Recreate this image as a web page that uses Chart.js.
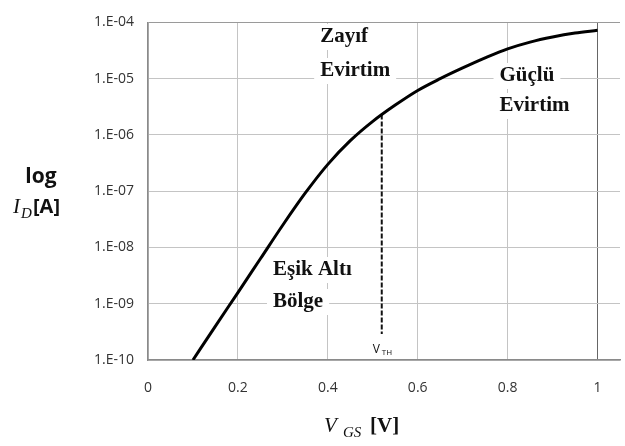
<!DOCTYPE html>
<html>
<head>
<meta charset="utf-8">
<script src="https://cdn.jsdelivr.net/npm/chart.js@4.4.1/dist/chart.umd.min.js"></script>
<style>
  html, body { margin: 0; padding: 0; background: #fff; }
  #wrap { width: 625px; height: 446px; position: relative; }
</style>
</head>
<body>
<div id="wrap"><canvas id="c"></canvas></div>
<script>
// VGS [V] ve ID [A]
const vgs = [0.1, 0.15, 0.2, 0.25, 0.3, 0.35, 0.4, 0.45, 0.5, 0.55, 0.6, 0.65, 0.7, 0.75, 0.8, 0.85, 0.9, 0.95, 1.0];
const idA = [1.0e-10, 4.0e-10, 1.58e-9, 6.3e-9, 2.51e-8, 9.3e-8, 3.0e-7, 7.9e-7, 1.74e-6, 3.39e-6, 6.17e-6,
             1.0e-5, 1.55e-5, 2.34e-5, 3.39e-5, 4.47e-5, 5.5e-5, 6.46e-5, 7.24e-5];

// VTH kesikli çizgisi
const vthX = [0.52, 0.52];
const vthY = [2.3e-6, 2.9e-10];

const xTicks = [0, 0.2, 0.4, 0.6, 0.8, 1.0];
const yTicks = [1e-10, 1e-9, 1e-8, 1e-7, 1e-6, 1e-5, 1e-4];

// bölge etiketleri
const regionLabels = [
  { lines: ['Zayıf', 'Evirtim'], x: 0.383, y: [42, 76] },
  { lines: ['Güçlü', 'Evirtim'], x: 0.782, y: [81, 111] },
  { lines: ['Eşik Altı', 'Bölge'], x: 0.278, y: [275, 307] },
];

const FONT_SANS = "'Open Sans', 'Liberation Sans', sans-serif";
const FONT_SERIF = "'Liberation Serif', 'DejaVu Serif', serif";

const labelsPlugin = {
  id: 'labels',
  beforeDatasetsDraw(chart) {
    const { ctx, scales: { x } } = chart;
    ctx.save();
    ctx.font = `bold 21px ${FONT_SERIF}`;
    ctx.textBaseline = 'alphabetic';
    ctx.textAlign = 'left';
    regionLabels.forEach(r => {
      const px = x.getPixelForValue(r.x);
      r.lines.forEach((t, i) => {
        const w = ctx.measureText(t).width;
        ctx.fillStyle = '#fff';
        ctx.fillRect(px - 6, r.y[i] - 18, w + 12, 26);
      });
      r.lines.forEach((t, i) => {
        ctx.fillStyle = '#111';
        ctx.fillText(t, px, r.y[i]);
      });
    });
    ctx.restore();
  },
  afterDraw(chart) {
    const { ctx, scales: { x } } = chart;
    ctx.save();
    ctx.fillStyle = '#111';
    ctx.textBaseline = 'alphabetic';

    // V_TH
    const vx = x.getPixelForValue(vthX[0]);
    ctx.textAlign = 'left';
    ctx.font = `12px ${FONT_SANS}`;
    ctx.fillText('V', vx - 9, 353);
    ctx.font = `8px ${FONT_SANS}`;
    ctx.fillText('TH', vx, 355);

    // y ekseni başlığı
    ctx.textAlign = 'center';
    ctx.font = `bold 21px ${FONT_SANS}`;
    ctx.fillText('log', 41, 183);
    ctx.textAlign = 'left';
    ctx.font = `italic 21px ${FONT_SERIF}`;
    ctx.fillText('I', 13, 213);
    ctx.font = `italic 15px ${FONT_SERIF}`;
    ctx.fillText('D', 21, 218);
    ctx.font = `bold 20px ${FONT_SANS}`;
    ctx.fillText('[A]', 33, 213);

    // x ekseni başlığı
    ctx.font = `italic 21px ${FONT_SERIF}`;
    ctx.fillText('V', 324, 432);
    ctx.font = `italic 15px ${FONT_SERIF}`;
    ctx.fillText('GS', 343, 437);
    ctx.font = `bold 21px ${FONT_SERIF}`;
    ctx.fillText('[V]', 370, 432);
    ctx.restore();
  },
};

new Chart(document.getElementById('c'), {
  type: 'line',
  data: {
    datasets: [
      {
        data: vgs.map((v, i) => ({ x: v, y: idA[i] })),
        borderColor: '#000',
        borderWidth: 3,
        pointRadius: 0,
        cubicInterpolationMode: 'monotone',
        fill: false,
      },
      {
        data: vthX.map((v, i) => ({ x: v, y: vthY[i] })),
        borderColor: '#111',
        borderWidth: 2,
        borderDash: [5, 2],
        pointRadius: 0,
        fill: false,
      },
    ],
  },
  options: {
    responsive: true,
    maintainAspectRatio: false,
    animation: false,
    layout: { padding: { left: 0, top: 12, right: 5, bottom: 0 } },
    plugins: { legend: { display: false }, tooltip: { enabled: false } },
    scales: {
      x: {
        type: 'linear',
        min: 0,
        max: 1.05,
        afterBuildTicks: axis => { axis.ticks = xTicks.map(v => ({ value: v })); },
        afterFit: axis => { axis.height = 86; },
        grid: {
          drawTicks: false,
          color: c => (c.tick && c.tick.value === 1 ? '#666' : '#c4c4c4'),
          lineWidth: 1,
        },
        border: { color: '#8a8a8a', width: 1.5 },
        ticks: {
          padding: 20,
          color: '#333',
          font: { family: FONT_SANS, size: 14 },
          callback: v => String(parseFloat(v.toFixed(1))),
        },
      },
      y: {
        type: 'logarithmic',
        min: 1e-10,
        max: 1e-4,
        afterBuildTicks: axis => { axis.ticks = yTicks.map(v => ({ value: v })); },
        afterFit: axis => { axis.width = 148; },
        grid: {
          drawTicks: false,
          color: c => (c.tick && c.tick.value === 1e-4 ? '#9a9a9a' : '#c4c4c4'),
          lineWidth: 1,
        },
        border: { color: '#8a8a8a', width: 1.5 },
        ticks: {
          padding: 14,
          color: '#333',
          font: { family: FONT_SANS, size: 14 },
          callback: v => '1.E-' + String(-Math.round(Math.log10(v))).padStart(2, '0'),
        },
      },
    },
  },
  plugins: [labelsPlugin],
});
</script>
</body>
</html>
